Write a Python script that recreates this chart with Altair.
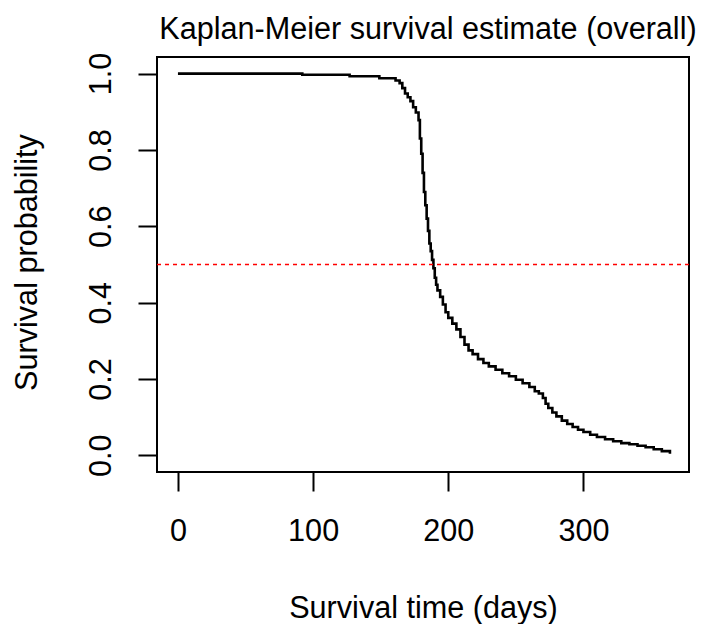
import altair as alt
import pandas as pd

# Kaplan-Meier estimate (step function)
times = [0, 92, 127, 149, 161, 164, 166, 168, 170, 172, 174, 176, 178, 179, 180,
         181, 182, 183, 184, 185, 186, 187, 188, 189, 190, 191, 192, 194, 196, 198,
         200, 203, 206, 209, 212, 215, 218, 222, 226, 230, 235, 240, 245, 250, 255,
         260, 264, 267, 270, 272, 274, 277, 280, 284, 288, 292, 296, 300, 305, 310,
         316, 322, 328, 334, 340, 346, 352, 358, 364]
surv = [1.0, 0.997, 0.993, 0.988, 0.982, 0.975, 0.962, 0.948, 0.938, 0.928, 0.912,
        0.898, 0.878, 0.83, 0.79, 0.74, 0.69, 0.655, 0.62, 0.588, 0.555, 0.535, 0.512,
        0.49, 0.465, 0.447, 0.432, 0.415, 0.395, 0.375, 0.36, 0.345, 0.33, 0.31, 0.29,
        0.275, 0.265, 0.252, 0.242, 0.233, 0.224, 0.215, 0.207, 0.198, 0.189, 0.179,
        0.168, 0.162, 0.15, 0.135, 0.124, 0.112, 0.102, 0.091, 0.082, 0.074, 0.067,
        0.061, 0.054, 0.048, 0.042, 0.037, 0.032, 0.029, 0.025, 0.021, 0.016, 0.011,
        0.004]
median_line = [0.5]
x_ticks = [0, 100, 200, 300]
y_ticks = [0.0, 0.2, 0.4, 0.6, 0.8, 1.0]

km = pd.DataFrame({"time": times, "surv": surv})
ref = pd.DataFrame({"y": median_line})

FONT = "Liberation Sans"
FS = 30.6

xscale = alt.Scale(domain=[-15.5, 378.1], nice=False, zero=False)
yscale = alt.Scale(domain=[-0.0437, 1.0435], nice=False, zero=False)

xaxis = alt.Axis(values=x_ticks, format="d", title="Survival time (days)",
                 domain=False, grid=False, ticks=True, tickSize=19, tickWidth=2,
                 tickColor="black", labelFontSize=FS, labelFont=FONT,
                 labelColor="black", labelBaseline="alphabetic", labelPadding=49,
                 labelFlush=False, labelOverlap=False,
                 titleFont=FONT, titleFontSize=FS, titleFontWeight="normal",
                 titleColor="black", titleBaseline="alphabetic", titleY=145.5,
                 titleX=266)
yaxis = alt.Axis(values=y_ticks, format=".1f", title="Survival probability",
                 domain=False, grid=False, ticks=True, tickSize=19, tickWidth=2,
                 tickColor="black", labelFontSize=FS, labelFont=FONT,
                 labelColor="black", labelAngle=270, labelAlign="center",
                 labelBaseline="alphabetic", labelPadding=28, labelFlush=False,
                 labelOverlap=False,
                 titleFont=FONT, titleFontSize=FS, titleFontWeight="normal",
                 titleColor="black", titleAngle=270, titleBaseline="alphabetic",
                 titleX=-120.6, titleY=205)

curve = alt.Chart(km).mark_line(interpolate="step-after", color="black",
                                 strokeWidth=2.6).encode(
    x=alt.X("time:Q", scale=xscale, axis=xaxis),
    y=alt.Y("surv:Q", scale=yscale, axis=yaxis),
)

rule = alt.Chart(ref).mark_rule(color="#ff0000", strokeWidth=1.6,
                                strokeDash=[4, 4]).encode(
    y=alt.Y("y:Q", scale=yscale),
)

chart = alt.layer(curve, rule).properties(
    width=532,
    height=415,
    background="white",
    title=alt.TitleParams("Kaplan-Meier survival estimate (overall)",
                          font=FONT, fontSize=FS, fontWeight="normal",
                          color="black", anchor="middle", frame="group",
                          baseline="alphabetic", offset=18.4, dy=36, dx=5),
    autosize=alt.AutoSizeParams(type="none"),
    padding={"left": 157, "top": 57, "right": 14, "bottom": 152},
).configure_view(
    stroke="black", strokeWidth=2
)

chart.save("out.html", embed_options={"renderer": "svg", "actions": False})
